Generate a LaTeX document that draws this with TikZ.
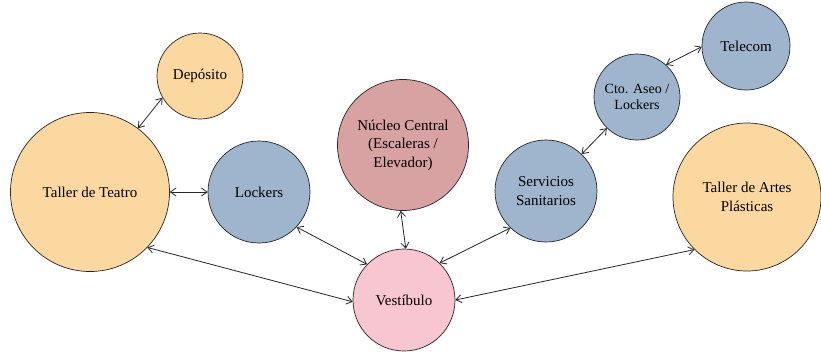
\documentclass[tikz,border=0pt]{standalone}
\usepackage{fontspec}
\setmainfont{Liberation Serif}
\usetikzlibrary{arrows.meta}
\definecolor{cyellow}{HTML}{FAD8A0}
\definecolor{cblue}{HTML}{9FB4CD}
\definecolor{crose}{HTML}{D9A2A2}
\definecolor{cpink}{HTML}{F8C6D0}
\begin{document}
\begin{tikzpicture}[x=1pt,y=-1pt,
  room/.style={circle,draw=black!85,line width=0.7pt,inner sep=0pt,align=center,
    font=\fontsize{15}{18.5}\selectfont},
  link/.style={{Straight Barb[length=5.5pt,width=8pt]}-{Straight Barb[length=5.5pt,width=8pt]},line width=0.8pt,black!85}]
\useasboundingbox (0,0) rectangle (821,354);
\fill[white] (0,0) rectangle (821,354);
\node[room,fill=cyellow,minimum size=86pt] (dep) at (200,76) {Depósito};
\node[room,fill=cyellow,minimum size=159pt] (tt) at (90,192) {Taller de Teatro};
\node[room,fill=cblue,minimum size=102pt] (lock) at (259,192) {Lockers};
\node[room,fill=crose,minimum size=131pt] (nuc) at (403,145) {Núcleo Central\\(Escaleras /\\Elevador)};
\node[room,fill=cpink,minimum size=102pt] (ves) at (404,300) {Vestíbulo};
\node[room,fill=cblue,minimum size=102pt] (ss) at (546,191) {Servicios\\Sanitarios};
\node[room,fill=cblue,minimum size=86pt,font=\fontsize{14}{16}\selectfont] (cto) at (637,97) {Cto. Aseo /\\Lockers};
\node[room,fill=cblue,minimum size=88pt] (tel) at (746,46) {Telecom};
\node[room,fill=cyellow,minimum size=148pt] (tap) at (747,197) {Taller de Artes\\Plásticas};
\draw[link] (dep.210) -- (tt.53);
\draw[link] (tt.east) -- (lock.west);
\draw[link] (tt.316) -- (ves.182);
\draw[link] (lock.317) -- (ves.136);
\draw[link] (nuc.268) -- (ves.88);
\draw[link] (ves.46) -- (ss.226);
\draw[link] (ss.46) -- (cto.226);
\draw[link] (cto.48) -- (tel.181);
\draw[link] (ves.0) -- (tap.225);
\end{tikzpicture}
\end{document}
